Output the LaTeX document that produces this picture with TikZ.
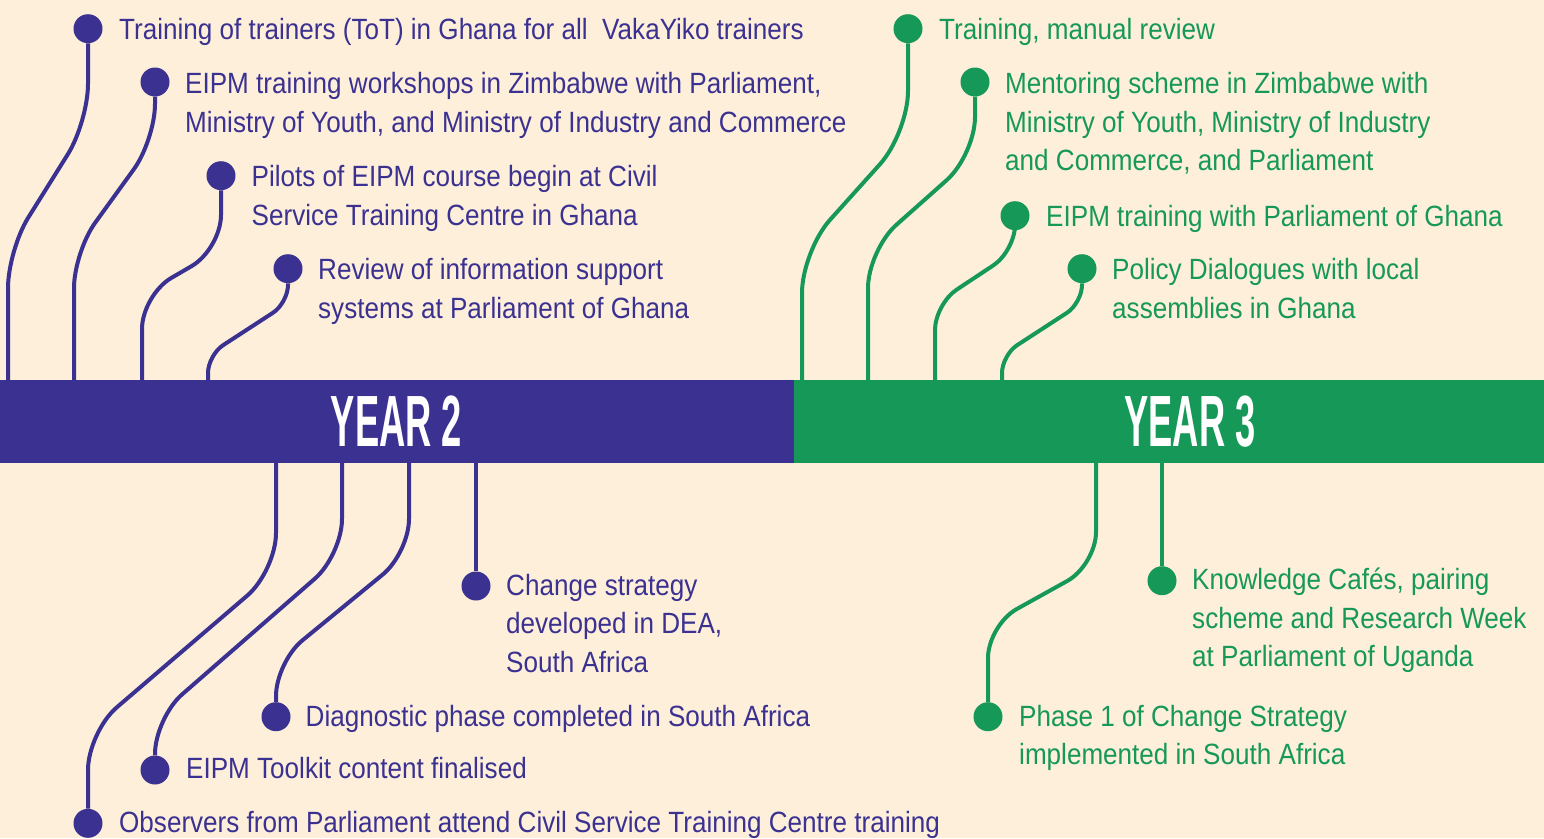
\documentclass[tikz,border=0pt]{standalone}
\usepackage{fontspec}
\setmainfont{Liberation Sans}[FakeStretch=0.89]
\newfontfamily\yearfont{Liberation Sans}[FakeStretch=0.5]
\definecolor{bg}{RGB}{253,239,218}
\definecolor{pur}{RGB}{59,49,145}
\definecolor{grn}{RGB}{22,152,88}
\begin{document}
\begin{tikzpicture}[x=1pt,y=-1pt,
  pdot/.style={circle,fill=pur,inner sep=0pt,minimum size=29pt},
  gdot/.style={circle,fill=grn,inner sep=0pt,minimum size=29pt},
  lbl/.style={anchor=base west,inner sep=0pt,align=left,font=\fontsize{29.3pt}{38.7pt}\selectfont},
  ptext/.style={lbl,text=pur},
  gtext/.style={lbl,text=grn},
  pline/.style={draw=pur,line width=4pt},
  gline/.style={draw=grn,line width=4pt},
  yeartext/.style={text=white,inner sep=0pt,font=\yearfont\bfseries\fontsize{72.6pt}{72.6pt}\selectfont}]
\useasboundingbox (0,0) rectangle (1544,838);
\fill[bg] (0,0) rectangle (1544,838);
% bands
\node[fill=pur,inner sep=0pt,minimum width=794pt,minimum height=83pt,anchor=north west] (band2) at (0,380) {};
\node[fill=grn,inner sep=0pt,minimum width=750pt,minimum height=83pt,anchor=north west] (band3) at (794,380) {};
\node[yeartext] (y2) at (396.5,421.5) {YEAR 2};
\node[yeartext] (y3) at (1190,421.5) {YEAR 3};
% band attachment points
\coordinate (a1) at (8,380);
\coordinate (a2) at (74,380);
\coordinate (a3) at (142,380);
\coordinate (a4) at (208,380);
\coordinate (b1) at (802,380);
\coordinate (b2) at (868,380);
\coordinate (b3) at (935,380);
\coordinate (b4) at (1002,380);
\coordinate (c1) at (276,463);
\coordinate (c2) at (342,463);
\coordinate (c3) at (409,463);
\coordinate (c4) at (476,463);
\coordinate (e1) at (1096,463);
\coordinate (e2) at (1162,463);
% dots
\node[pdot] (p1) at (88,28.7) {};
\node[pdot] (p2) at (155,82) {};
\node[pdot] (p3) at (221,175.7) {};
\node[pdot] (p4) at (288,268.7) {};
\node[gdot] (g1) at (908,28.7) {};
\node[gdot] (g2) at (975,82) {};
\node[gdot] (g3) at (1015,215.7) {};
\node[gdot] (g4) at (1082,268.7) {};
\node[pdot] (q1) at (88,823.3) {};
\node[pdot] (q2) at (155,770) {};
\node[pdot] (q3) at (276,716.7) {};
\node[pdot] (q4) at (476,586) {};
\node[gdot] (h1) at (988,716.7) {};
\node[gdot] (h2) at (1162,580.7) {};
% connectors
\draw[pline,rounded corners=38pt] (p1.south) -- (88,122) -- (8,250) -- (a1);
\draw[pline,rounded corners=36pt] (p2.south) -- (155,140) -- (74,252) -- (a2);
\draw[pline,rounded corners=34pt] (p3.south) -- (221,249) -- (142,295) -- (a3);
\draw[pline,rounded corners=18pt] (p4.south) -- (288,303) -- (208,355) -- (a4);
\draw[gline,rounded corners=42pt] (g1.south) -- (908,133) -- (802,251) -- (b1);
\draw[gline,rounded corners=38pt] (g2.south) -- (975,155) -- (868,250) -- (b2);
\draw[gline,rounded corners=26pt] (g3.south) -- (1015,251) -- (935,304) -- (b3);
\draw[gline,rounded corners=18pt] (g4.south) -- (1082,303) -- (1002,355) -- (b4);
\draw[pline,rounded corners=38pt] (c1) -- (276,571) -- (88,732) -- (q1.north);
\draw[pline,rounded corners=36pt] (c2) -- (342,555) -- (155,718) -- (q2.north);
\draw[pline,rounded corners=34pt] (c3) -- (409,553) -- (276,662) -- (q3.north);
\draw[pline] (c4) -- (q4.north);
\draw[gline,rounded corners=33pt] (e1) -- (1096,565) -- (988,625) -- (h1.north);
\draw[gline] (e2) -- (h2.north);
% labels (base = baseline of the last line)
\node[ptext] (tp1) at (119,39.5) {Training of trainers (ToT) in Ghana for all\ \ VakaYiko trainers};
\node[ptext] (tp2) at (185,132) {EIPM training workshops in Zimbabwe with Parliament,\\Ministry of Youth, and Ministry of Industry and Commerce};
\node[ptext] (tp3) at (251.5,225.4) {Pilots of EIPM course begin at Civil\\Service Training Centre in Ghana};
\node[ptext] (tp4) at (318,318.4) {Review of information support\\systems at Parliament of Ghana};
\node[gtext] (tg1) at (939,39.5) {Training, manual review};
\node[gtext] (tg2) at (1005,170.7) {Mentoring scheme in Zimbabwe with\\Ministry of Youth, Ministry of Industry\\and Commerce, and Parliament};
\node[gtext] (tg3) at (1046,226.7) {EIPM training with Parliament of Ghana};
\node[gtext] (tg4) at (1112,318.4) {Policy Dialogues with local\\assemblies in Ghana};
\node[ptext] (tq4) at (506,672.4) {Change strategy\\developed in DEA,\\South Africa};
\node[ptext] (tq3) at (305.5,726) {Diagnostic phase completed in South Africa};
\node[ptext] (tq2) at (186,778.5) {EIPM Toolkit content finalised};
\node[ptext] (tq1) at (119,832) {Observers from Parliament attend Civil Service Training Centre training};
\node[gtext] (th2) at (1192,666.9) {Knowledge Cafés, pairing\\scheme and Research Week\\at Parliament of Uganda};
\node[gtext] (th1) at (1019,764.7) {Phase 1 of Change Strategy\\implemented in South Africa};
\end{tikzpicture}
\end{document}
